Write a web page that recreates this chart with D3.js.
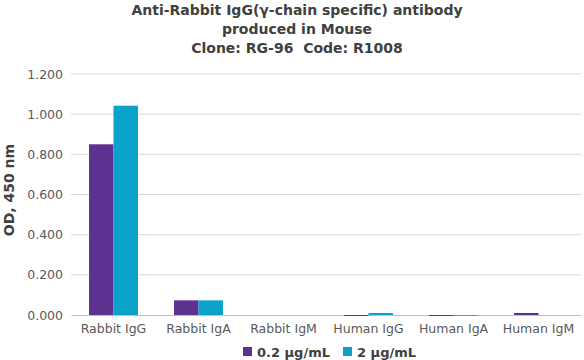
<!DOCTYPE html>
<html>
<head>
<meta charset="utf-8">
<script src="https://cdn.jsdelivr.net/npm/d3@7"></script>
<style>
  body { margin: 0; background: #fff; }
  svg { font-family: "DejaVu Sans", Verdana, sans-serif; }
</style>
</head>
<body>
<svg id="chart" width="584" height="360"></svg>
<script>
const categories = ["Rabbit IgG", "Rabbit IgA", "Rabbit IgM", "Human IgG", "Human IgA", "Human IgM"]
const seriesNames = ["0.2 \u00b5g/mL", "2 \u00b5g/mL"]
const low = [0.850, 0.073, 0.000, -0.005, -0.005, 0.010]
const high = [1.042, 0.073, 0.000, 0.010, -0.004, 0.000]
const yTicks = [0, 0.2, 0.4, 0.6, 0.8, 1.0, 1.2]
const titleLines = ["Anti-Rabbit IgG(\u03b3-chain specific) antibody", "produced in Mouse", "Clone: RG-96  Code: R1008"]
const colors = ["#5c3290", "#0aa2c9"]

const svg = d3.select("#chart")
const margin = { top: 74, right: 3, bottom: 45, left: 71 }
const width = 584 - margin.left - margin.right
const height = 360 - margin.top - margin.bottom

// title
svg.append("g")
  .selectAll("text")
  .data(titleLines)
  .enter()
  .append("text")
  .attr("x", 297)
  .attr("y", (d, i) => 15 + i * 19)
  .attr("text-anchor", "middle")
  .attr("font-size", 14)
  .attr("font-weight", "bold")
  .attr("fill", "#404040")
  .style("white-space", "pre")
  .text((d) => d)

const g = svg.append("g").attr("transform", `translate(${margin.left},${margin.top})`)

const x = d3.scaleBand().domain(categories).range([0, width]).paddingInner(0.424).paddingOuter(0.212)
const x1 = d3.scaleBand().domain([0, 1]).range([0, x.bandwidth()])
const y = d3.scaleLinear().domain([0, 1.2]).range([height, 0])

// grid
g.append("g")
  .selectAll("line")
  .data(yTicks.slice(1))
  .enter()
  .append("line")
  .attr("x1", 0)
  .attr("x2", width)
  .attr("y1", (d) => y(d))
  .attr("y2", (d) => y(d))
  .attr("stroke", "#d9d9d9")

// y-axis labels
const yAxis = g.append("g").call(d3.axisLeft(y).tickValues(yTicks).tickFormat(d3.format(".3f")).tickSize(0).tickPadding(8))
yAxis.select(".domain").remove()
yAxis.selectAll("text").attr("font-size", 12.5).attr("fill", "#595959").attr("font-family", "DejaVu Sans, sans-serif")

// x-axis
const xAxis = g.append("g")
  .attr("transform", `translate(0,${height})`)
  .call(d3.axisBottom(x).tickSize(0).tickPadding(9))
xAxis.select(".domain").attr("stroke", "#bfbfbf")
xAxis.selectAll("text").attr("font-size", 12.5).attr("fill", "#595959").attr("font-family", "DejaVu Sans, sans-serif")

// bars
const series = [low, high]
series.forEach((vals, si) => {
  g.append("g")
    .selectAll("rect")
    .data(vals)
    .enter()
    .append("rect")
    .attr("x", (d, i) => x(categories[i]) + x1(si))
    .attr("width", x1.bandwidth())
    .attr("y", (d) => y(Math.max(0, d)))
    .attr("height", (d) => Math.abs(y(d) - y(0)))
    .attr("fill", colors[si])
})

// y title
svg.append("text")
  .attr("transform", "translate(14,190) rotate(-90)")
  .attr("text-anchor", "middle")
  .attr("font-size", 14)
  .attr("font-weight", "bold")
  .attr("fill", "#404040")
  .text("OD, 450 nm")

// legend
const legendX = [243, 343]
const legend = svg.append("g")
seriesNames.forEach((name, i) => {
  legend.append("rect")
    .attr("x", legendX[i]).attr("y", 347).attr("width", 9).attr("height", 9)
    .attr("fill", colors[i])
  legend.append("text")
    .attr("x", legendX[i] + 14).attr("y", 357)
    .attr("font-size", 13).attr("font-weight", "bold").attr("fill", "#404040")
    .text(name)
})
</script>
</body>
</html>
